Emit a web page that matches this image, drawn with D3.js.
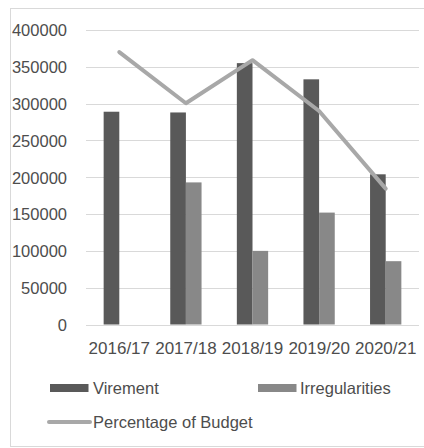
<!DOCTYPE html>
<html><head><meta charset="utf-8">
<script src="https://cdn.jsdelivr.net/npm/d3@7"></script>
<style>html,body{margin:0;padding:0;background:#fff;}svg{display:block;}</style>
</head><body>
<script>
const categories = ["2016/17","2017/18","2018/19","2019/20","2020/21"];
const virement = [289000, 288000, 355000, 333000, 204000];
const irregularities = [0, 193000, 100000, 152000, 86000];
const percentageOfBudget = [370000, 300500, 359000, 290000, 184500];
const yTicks = [0,50000,100000,150000,200000,250000,300000,350000,400000];
const seriesNames = ["Virement","Irregularities"];
const seriesColors = {"Virement":"#595959","Irregularities":"#888888"};
const lineColor = "#a8a8a8";

const W = 424, H = 448;
const svg = d3.select("body").append("svg").attr("width", W).attr("height", H);
const font = "'Liberation Sans', Arial, sans-serif";
const textColor = "#4d4d4d";

// outer border
svg.append("rect").attr("x",10.5).attr("y",8.5).attr("width",W+10).attr("height",438)
  .attr("fill","#fff").attr("stroke","#d9d9d9").attr("stroke-width",1);

const y = d3.scaleLinear().domain([0,400000]).range([324.5,30]);
const x = d3.scaleBand().domain(categories).range([86,419]).paddingInner(0.53).paddingOuter(0.265);
const xs = d3.scaleBand().domain(seriesNames).range([0, x.bandwidth()]);

// gridlines
svg.append("g").selectAll("line").data(yTicks).join("line")
  .attr("x1",86).attr("x2",419)
  .attr("y1",d=>Math.round(y(d))+0.5).attr("y2",d=>Math.round(y(d))+0.5)
  .attr("stroke","#d9d9d9").attr("stroke-width",1);

// y axis labels
const yAxis = d3.axisLeft(y).tickValues(yTicks).tickSize(0).tickPadding(0).tickFormat(d3.format("d"));
const gy = svg.append("g").attr("transform","translate(67,0)").call(yAxis);
gy.select(".domain").remove();
gy.selectAll("text").attr("font-family",font).attr("font-size","16.5px").attr("fill",textColor).attr("dy","0.35em");

// bars
const data = categories.map((c,i)=>({c, Virement: virement[i], Irregularities: irregularities[i]}));
const g = svg.append("g");
g.selectAll("g").data(data).join("g")
  .attr("transform", d=>`translate(${x(d.c)},0)`)
  .selectAll("rect").data(d=>seriesNames.map(s=>({s, v:d[s]})).filter(e=>e.v>0)).join("rect")
  .attr("x", e=>xs(e.s)).attr("width", xs.bandwidth())
  .attr("y", e=>y(e.v)).attr("height", e=>y(0)-y(e.v))
  .attr("fill", e=>seriesColors[e.s]);

// line
const line = d3.line().x((d,i)=>x(categories[i])+x.bandwidth()/2).y(d=>y(d));
svg.append("path").datum(percentageOfBudget).attr("d",line)
  .attr("fill","none").attr("stroke",lineColor).attr("stroke-width",4)
  .attr("stroke-linejoin","round").attr("stroke-linecap","round");

// x axis labels
const xAxis = d3.axisBottom(x).tickSize(0).tickPadding(0);
const gx = svg.append("g").attr("transform","translate(0,342)").call(xAxis);
gx.select(".domain").remove();
gx.selectAll("text").attr("font-family",font).attr("font-size","17px").attr("fill",textColor).attr("dy","0.71em");

// legend
const leg = svg.append("g").attr("font-family",font).attr("font-size","16.5px").attr("fill",textColor);
leg.append("rect").attr("x",50).attr("y",384).attr("width",38.5).attr("height",8).attr("fill",seriesColors["Virement"]);
leg.append("text").attr("x",93).attr("y",388).attr("dy","0.35em").text("Virement");
leg.append("rect").attr("x",258).attr("y",384).attr("width",38.5).attr("height",8).attr("fill",seriesColors["Irregularities"]);
leg.append("text").attr("x",300).attr("y",388).attr("dy","0.35em").text("Irregularities");
leg.append("line").attr("x1",49).attr("x2",90).attr("y1",422).attr("y2",422)
  .attr("stroke",lineColor).attr("stroke-width",4).attr("stroke-linecap","round");
leg.append("text").attr("x",93).attr("y",422).attr("dy","0.35em").text("Percentage of Budget");
</script>
</body></html>
